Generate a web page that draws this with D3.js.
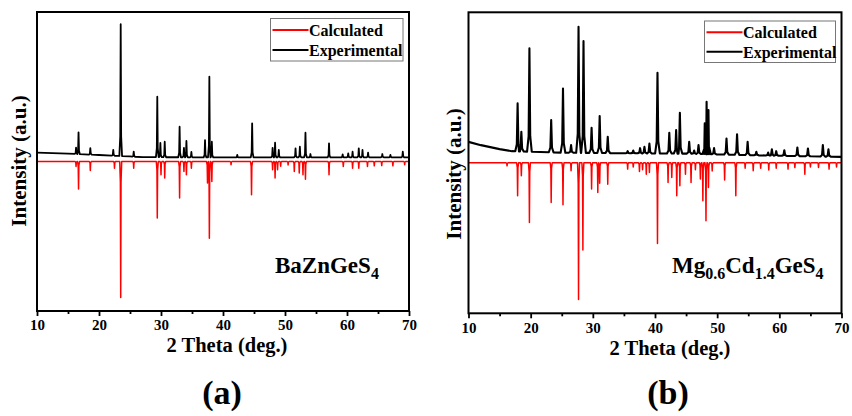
<!DOCTYPE html>
<html><head><meta charset="utf-8">
<script src="https://cdn.jsdelivr.net/npm/d3@7"></script>
<style>
body{margin:0;background:#fff}
svg{display:block}
text{font-family:"Liberation Serif","Times New Roman",serif;font-weight:bold;fill:#000}
</style>
</head><body>
<svg id="chart" width="852" height="416"></svg>
<script>
// ---------------- data ----------------
const thetaTicks = [10, 20, 30, 40, 50, 60, 70];
const thetaMinorTicks = [15, 25, 35, 45, 55, 65];
const seriesNames = ["Calculated", "Experimental"];
const panelLabels = ["(a)", "(b)"];
const compoundA = [["BaZnGeS", false], ["4", true]];
const compoundB = [["Mg", false], ["0.6", true], ["Cd", false], ["1.4", true], ["GeS", false], ["4", true]];

// panel (a) BaZnGeS4 : experimental baseline [2θ, I] and peaks [2θ, I(top)]
const aExpBaseline = [[10, 6.6], [15, 5.8], [20, 4.8], [25, 3.7], [27, 3.2], [40, 3.0], [70, 3.1]];
const aExpPeaks = [
  [16.3, 10.2], [16.7, 21.5], [18.6, 9.9], [22.3, 8.5], [23.5, 101], [25.6, 7.2],
  [29.4, 47.7], [29.9, 13.6], [30.6, 14.6], [33.0, 25.6], [33.7, 10], [34.1, 15.1],
  [34.9, 7], [37.1, 15.8], [37.8, 62.4], [38.2, 14.6], [42.3, 4.8], [44.7, 28.1],
  [48.0, 10], [48.4, 13.8], [49.0, 8.5], [51.7, 9.7], [52.4, 10.9], [53.3, 21.2],
  [54.1, 5.5], [57.1, 13.4], [59.3, 5.3], [60.2, 6], [60.9, 7.2], [61.9, 9.7],
  [62.5, 8.5], [63.4, 6.5], [65.7, 5.5], [67.0, 4.8], [69.0, 7.2]
];
const aCalcPeaks = [
  [16.3, -3.7], [16.7, -20.3], [18.6, -6.6], [22.5, -4.9], [23.5, -100], [25.6, -4.9],
  [29.4, -41.6], [30.0, -9.8], [30.6, -12.2], [33.0, -26.9], [33.7, -7.4], [34.1, -9.8],
  [34.9, -4.9], [37.5, -15.9], [37.8, -56.4], [38.2, -14.7], [41.3, -2.4], [44.6, -24.5],
  [48.0, -6.1], [48.4, -12.2], [48.8, -6.1], [49.3, -3.5], [50.5, -2.5], [51.5, -7.4],
  [52.3, -8.5], [52.9, -9.8], [53.3, -13], [57.1, -9.8], [59.4, -3.7], [60.9, -4.9],
  [61.9, -4.9], [63.3, -3.7], [64.4, -3.2], [65.6, -3], [67.4, -3.2], [69.3, -2.4]
];

// panel (b) Mg0.6Cd1.4GeS4
const bExpBaseline = [[10, 15.3], [12, 12.9], [15, 10], [17, 8.5], [25, 7.4], [35, 7], [45, 6.7], [55, 5.6], [70, 4.3]];
const bExpPeaks = [
  [17.9, 43.4], [18.5, 22.6], [19.8, 83.6], [23.3, 31.2], [25.2, 54.3], [26.5, 12.9],
  [27.7, 99.4], [28.5, 88.9], [29.8, 25.5], [31.1, 34.1], [32.4, 19], [35.6, 8.5],
  [36.5, 9], [37.6, 10.7], [38.3, 11.7], [39.1, 14.1], [40.4, 65.8], [42.3, 21.9],
  [43.4, 23.9], [44.0, 36.5], [45.5, 15.3], [46.3, 9], [47.0, 12.9], [48.0, 28.8],
  [48.3, 44.6], [48.6, 38.5], [49.5, 10.7], [51.5, 17.8], [53.2, 20.9], [54.9, 15.3],
  [56.3, 8], [58.2, 7.5], [58.8, 9.8], [59.5, 8.5], [60.8, 9.2], [62.9, 11.2],
  [64.6, 10.5], [67.0, 12.9], [67.9, 9.8]
];
const bCalcPeaks = [
  [16.2, -2.2], [17.9, -24.1], [18.5, -9.5], [19.8, -43.6], [23.3, -29], [25.2, -30.7],
  [26.5, -5.8], [27.7, -100], [28.4, -63.8], [29.8, -19.2], [30.8, -21.7], [31.1, -15],
  [32.4, -15.6], [35.6, -4.6], [36.5, -3], [37.5, -6.4], [38.0, -5], [38.6, -8.3],
  [39.1, -7.1], [40.4, -59], [42.1, -14.4], [42.7, -10.7], [43.5, -24.1], [44.0, -16.8],
  [44.9, -8.3], [45.8, -14.4], [46.5, -5], [47.3, -11.9], [47.7, -27.8], [48.2, -42.4],
  [48.6, -18], [49.2, -6], [51.2, -12.6], [53.0, -24.1], [54.5, -4], [55.8, -5.8],
  [57.0, -4], [58.3, -5.3], [59.5, -4], [61.4, -4.6], [62.5, -3.5], [64.1, -8.3],
  [65.0, -3], [66.3, -3.4], [68.0, -4.6], [69.2, -3]
];
const calcBaseline = [[10, 0], [70, 0]];

// ---------------- drawing ----------------
const svg = d3.select("#chart");
const FONT = '"Liberation Serif","Times New Roman",serif';

const panels = [
  {id: "a", left: 37, right: 409, top: 12, bottom: 311,
   expBase: aExpBaseline, expPeaks: aExpPeaks, calcPeaks: aCalcPeaks, expW: 0.22, calcW: 0.16, expSW: 1.8,
   tickPad: 3,
   legend: {x0: 270.5, y0: 18.5, w: 132.5, h: 42.5, ly: [30, 50]},
   compound: compoundA, cx: 275, cy: 273,
   ylab: {x: 18.5, y: 161}, xtitle: {x: 227, y: 352}, plabel: {x: 222, y: 404, t: panelLabels[0]}},
  {id: "b", left: 468.5, right: 841.5, top: 12.3, bottom: 313.3,
   expBase: bExpBaseline, expPeaks: bExpPeaks, calcPeaks: bCalcPeaks, expW: 0.38, calcW: 0.16, expSW: 2.1,
   tickPad: 4,
   legend: {x0: 704.5, y0: 21, w: 131, h: 41.5, ly: [32.3, 51.7]},
   compound: compoundB, cx: 672, cy: 273,
   ylab: {x: 453.5, y: 174}, xtitle: {x: 670, y: 355}, plabel: {x: 668, y: 404, t: panelLabels[1]}}
];

function profile(peaks, baseAnchors, w) {
  const base = d3.scaleLinear().domain(baseAnchors.map(d => d[0])).range(baseAnchors.map(d => d[1]));
  const pts = [];
  baseAnchors.forEach(a => {
    if (!peaks.some(p => Math.abs(p[0] - a[0]) <= w)) pts.push([a[0], a[1]]);
  });
  peaks.forEach(([p, top]) => {
    const bl = base(p - w), br = base(p + w), bc = base(p);
    pts.push([p - w, bl]);
    pts.push([p - w / 3, bc + 0.15 * (top - bc)]);
    pts.push([p, top]);
    pts.push([p + w / 3, bc + 0.15 * (top - bc)]);
    pts.push([p + w, br]);
  });
  pts.sort((a, b) => a[0] - b[0]);
  return pts;
}

panels.forEach(P => {
  const g = svg.append("g");
  const x = d3.scaleLinear().domain([10, 70]).range([P.left, P.right]);
  const y = d3.scaleLinear().domain([-110, 110]).range([P.bottom, P.top]);
  const line = d3.line().x(d => x(d[0])).y(d => y(d[1]));

  g.append("clipPath").attr("id", "clip" + P.id).append("rect")
    .attr("x", P.left).attr("y", P.top).attr("width", P.right - P.left).attr("height", P.bottom - P.top);
  const plot = g.append("g").attr("clip-path", `url(#clip${P.id})`);

  plot.append("path").datum(profile(P.calcPeaks, calcBaseline, P.calcW))
    .attr("d", line).attr("fill", "none").attr("stroke", "#ff0000").attr("stroke-width", 1.5)
    .attr("stroke-linejoin", "round");
  plot.append("path").datum(profile(P.expPeaks, P.expBase, P.expW))
    .attr("d", line).attr("fill", "none").attr("stroke", "#000").attr("stroke-width", P.expSW)
    .attr("stroke-linejoin", "round");

  // axis (bottom) with minor ticks
  const ax = g.append("g").attr("transform", `translate(0,${P.bottom})`)
    .call(d3.axisBottom(x).tickValues(thetaTicks).tickSize(5).tickPadding(P.tickPad).tickFormat(d3.format("d")));
  ax.select(".domain").remove();
  ax.selectAll(".tick line").attr("stroke", "#000").attr("stroke-width", 1.8);
  ax.selectAll(".tick text").style("font-family", FONT).style("font-weight", "bold").style("font-size", "15px").attr("fill", "#000");
  const mx = g.append("g").attr("transform", `translate(0,${P.bottom})`)
    .call(d3.axisBottom(x).tickValues(thetaMinorTicks).tickSize(3).tickFormat(""));
  mx.select(".domain").remove();
  mx.selectAll(".tick line").attr("stroke", "#000").attr("stroke-width", 1.8);

  // frame
  g.append("rect").attr("x", P.left).attr("y", P.top).attr("width", P.right - P.left).attr("height", P.bottom - P.top)
    .attr("fill", "none").attr("stroke", "#000").attr("stroke-width", 2);

  // legend
  const L = P.legend;
  g.append("rect").attr("x", L.x0).attr("y", L.y0).attr("width", L.w).attr("height", L.h)
    .attr("fill", "#fff").attr("stroke", "#777").attr("stroke-width", 1);
  const colors = ["#ff0000", "#000"];
  seriesNames.forEach((s, i) => {
    g.append("line").attr("x1", L.x0 + 2).attr("x2", L.x0 + 38).attr("y1", L.ly[i]).attr("y2", L.ly[i])
      .attr("stroke", colors[i]).attr("stroke-width", 2);
    g.append("text").attr("x", L.x0 + 38.5).attr("y", L.ly[i] + 5.8).style("font-size", "16px").text(s);
  });

  // compound label with subscripts
  const ct = g.append("text").attr("x", P.cx).attr("y", P.cy).style("font-size", "23px");
  let prevSub = false;
  P.compound.forEach(([t, sub]) => {
    const dy = sub ? (prevSub ? 0 : 6) : (prevSub ? -6 : 0);
    ct.append("tspan").attr("dy", dy).style("font-size", sub ? "16px" : "23px").text(t);
    prevSub = sub;
  });

  // axis titles
  g.append("text").attr("x", P.xtitle.x).attr("y", P.xtitle.y).attr("text-anchor", "middle")
    .style("font-size", "20.5px").text("2 Theta (deg.)");
  g.append("text").attr("transform", `translate(${P.ylab.x},${P.ylab.y}) rotate(-90)`)
    .attr("text-anchor", "middle").attr("dy", "0.35em").style("font-size", "21px").text("Intensity (a.u.)");
  g.append("text").attr("x", P.plabel.x).attr("y", P.plabel.y).attr("text-anchor", "middle")
    .style("font-size", "34px").text(P.plabel.t);
});
</script>
</body></html>
